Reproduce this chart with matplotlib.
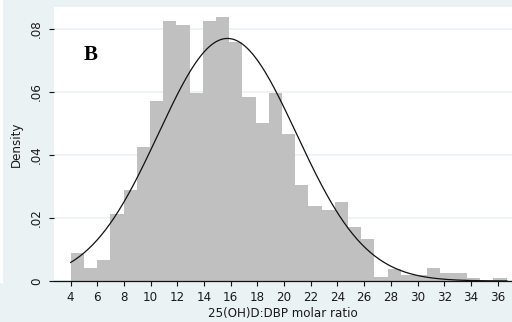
import numpy as np
import matplotlib
matplotlib.use("Agg")
import matplotlib.pyplot as plt

# ---- data ----
bin_start = 4.0
bin_width = 0.99
densities = [0.0088, 0.0040, 0.0067, 0.0213, 0.0289, 0.0426, 0.0572, 0.0826,
             0.0813, 0.0596, 0.0826, 0.0839, 0.0760, 0.0585, 0.0503, 0.0596,
             0.0466, 0.0305, 0.0238, 0.0225, 0.0250, 0.0172, 0.0132, 0.0013,
             0.0038, 0.0019, 0.0019, 0.0040, 0.0025, 0.0025, 0.0010, 0.0000,
             0.0010]
normal_mean = 15.75
normal_sd = 5.18
curve_range = [4.0, 36.7]
x_ticks = [4, 6, 8, 10, 12, 14, 16, 18, 20, 22, 24, 26, 28, 30, 32, 34, 36]
y_ticks = [0, 0.02, 0.04, 0.06, 0.08]
y_tick_labels = ["0", ".02", ".04", ".06", ".08"]
x_label = "25(OH)D:DBP molar ratio"
y_label = "Density"
panel_label = "B"

W, H = 512, 322
bg = "#EAF2F3"
fig = plt.figure(figsize=(W / 100, H / 100), dpi=100, facecolor=bg)

# white strip of the neighbouring (cropped) panel at the far left
strip = fig.add_axes([0, (H - 283) / H, 3 / W, 283 / H])
strip.set_facecolor("white")
strip.set_xticks([]); strip.set_yticks([])
for s in strip.spines.values():
    s.set_visible(False)

left, right = 54, 512
top, bottom = 7, 281
ax = fig.add_axes([left / W, (H - bottom) / H, (right - left) / W, (bottom - top) / H])
ax.set_facecolor("white")

edges = bin_start + bin_width * np.arange(len(densities) + 1)
ax.bar(edges[:-1], densities, width=bin_width, align="edge",
       color="#C0C0C0", edgecolor="none", zorder=2)

xs = np.linspace(curve_range[0], curve_range[1], 400)
ys = np.exp(-0.5 * ((xs - normal_mean) / normal_sd) ** 2) / (normal_sd * np.sqrt(2 * np.pi))
ax.plot(xs, ys, color="#111111", lw=0.9, zorder=3)

ax.set_xlim(2.75, 37.08)
ax.set_ylim(0, 0.0870)

ax.set_yticks(y_ticks)
ax.set_yticklabels(y_tick_labels, rotation=90, va="center")
ax.set_xticks(x_ticks)
ax.yaxis.grid(True, color=bg, lw=1.2, zorder=1)
ax.set_axisbelow(True)

for name in ["top", "right", "left"]:
    ax.spines[name].set_visible(False)
ax.spines["bottom"].set_color("#111111")
ax.spines["bottom"].set_linewidth(0.9)

ax.tick_params(axis="both", direction="out", length=3.6, width=0.8,
               color="#111111", labelsize=8.6, labelcolor="#1a1a1a")
ax.tick_params(axis="y", pad=4.3)
ax.tick_params(axis="x", pad=3.3)

ax.set_xlabel(x_label, fontsize=8.6, color="#1a1a1a", labelpad=2.5)
ax.set_ylabel(y_label, fontsize=8.6, color="#1a1a1a", labelpad=5)

ax.text(5.47, 0.0719, panel_label, fontsize=15, fontweight="bold",
        family="Liberation Serif", ha="center", va="center", zorder=4)

fig.savefig("out.png", dpi=100, facecolor=bg)
